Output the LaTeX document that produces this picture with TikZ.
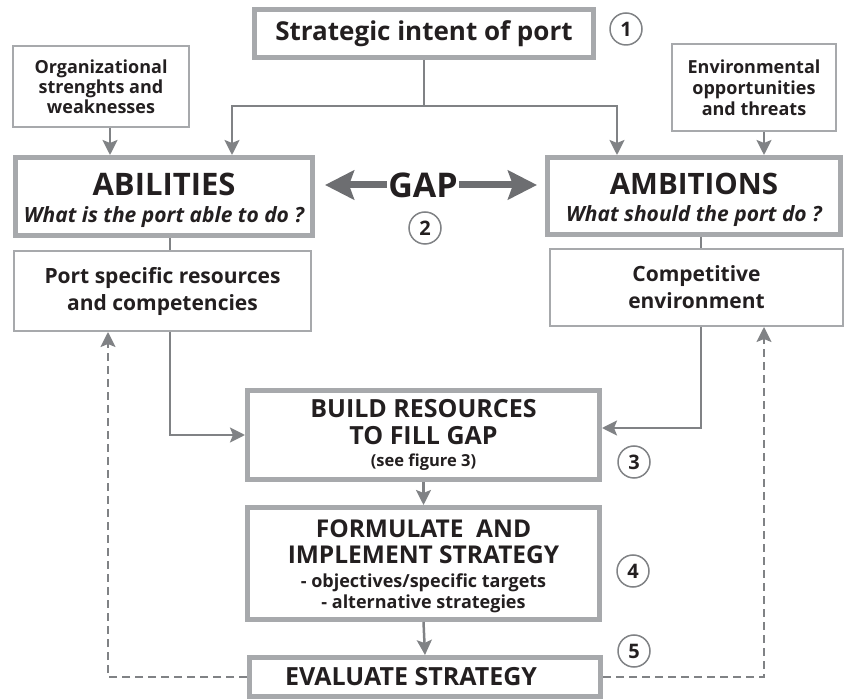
\documentclass[tikz,border=0pt]{standalone}
\usepackage{fontspec}
\setmainfont{Open Sans}
\usetikzlibrary{arrows.meta,calc}
\definecolor{boxgray}{HTML}{A7A9AC}
\definecolor{linegray}{HTML}{808285}
\definecolor{gapgray}{HTML}{6D6E71}
\definecolor{ink}{HTML}{231F20}
\newcommand\fsz[2]{\fontsize{#1pt}{#2pt}\selectfont}
\tikzset{
  thickbox/.style={draw=boxgray, line width=5pt, inner sep=0pt, align=center, text=ink},
  thinbox/.style={draw=boxgray, line width=2pt, inner sep=0pt, align=center, text=ink},
  conn/.style={draw=linegray, line width=2.5pt},
  arr/.style={conn, -{Stealth[length=15pt,width=15pt,inset=3pt]}},
  dasharr/.style={draw=linegray, line width=2pt, dash pattern=on 8pt off 5pt,
    -{Stealth[length=15pt,width=15pt,inset=3pt]}},
  gaparrow/.style={draw=gapgray, line width=7pt, -{Stealth[length=29pt,width=29pt,inset=5pt]}},
  num/.style={circle, draw=linegray, line width=1.5pt, minimum size=32pt, inner sep=0pt,
    text=ink, font=\bfseries\fsz{20}{20}},
}
\begin{document}
\begin{tikzpicture}[x=1pt,y=-1pt]
\useasboundingbox (0,0) rectangle (847,700);

% top row
\node[thickbox, minimum width=339pt, minimum height=48pt,
      font=\bfseries\fsz{26}{30}] (intent) at (424,33.5) {Strategic intent of port};
\node[num] (n1) at (626,29) {1};

\node[thinbox, minimum width=176pt, minimum height=81pt,
      font=\bfseries\fsz{18}{20}] (org) at (101,86.5)
      {Organizational\\strenghts and\\weaknesses};
\node[thinbox, minimum width=164pt, minimum height=87pt,
      font=\bfseries\fsz{18}{21}] (env) at (754,87.5)
      {Environmental\\opportunities\\and threats};

% abilities / ambitions
\node[thickbox, minimum width=297pt, minimum height=78pt,
      font=\bfseries\fsz{31}{27}] (abilities) at (164,196.5)
      {\rule{0pt}{30pt}ABILITIES\\{\itshape\fsz{21}{24}What is the port able to do ?}};
\node[thickbox, minimum width=293pt, minimum height=77pt,
      font=\bfseries\fsz{29.5}{27}] (ambitions) at (694,196)
      {\rule{0pt}{30pt}AMBITIONS\\{\itshape\fsz{21}{24}What should the port do ?}};

\node[inner sep=1.5pt, text=ink, font=\bfseries\fsz{34}{34}] (gap) at (423,185) {GAP};
\node[num] (n2) at (425,228) {2};

\node[thinbox, minimum width=297pt, minimum height=80pt,
      font=\bfseries\fsz{21}{27}] (port) at (162.5,291)
      {Port specific resources\\and competencies};
\node[thinbox, minimum width=293pt, minimum height=77pt,
      font=\bfseries\fsz{21}{27}] (comp) at (696.5,287.5)
      {Competitive\\environment};

% central column
\node[thickbox, minimum width=352pt, minimum height=89pt,
      font=\bfseries\fsz{25}{27}] (build) at (423.5,435)
      {BUILD RESOURCES\\TO FILL GAP\\[-5pt]{\fsz{16.5}{18}(see figure 3)}};
\node[num] (n3) at (634,462) {3};

\node[thickbox, minimum width=352pt, minimum height=112pt,
      font=\bfseries\fsz{24.5}{26}] (formulate) at (423.5,563.5)
      {\rule{0pt}{24pt}FORMULATE\ \ AND\\IMPLEMENT STRATEGY\\[-2pt]{\fsz{18}{20}- objectives/specific targets}\\[-5pt]
       {\fsz{18}{20}- alternative strategies}};
\node[num] (n4) at (633,571) {4};

\node[thickbox, minimum width=351pt, minimum height=39pt,
      font=\bfseries\fsz{25}{27}] (evaluate) at (425,677)
      {\hspace*{-28pt}EVALUATE STRATEGY};
\node[num] (n5) at (634,651) {5};

% connectors from the strategic intent
\coordinate (split) at (424,106);
\draw[conn] (intent.south) -- (split);
\draw[arr] (split) -| ([xshift=68pt]abilities.north);
\draw[arr] (split) -| ([xshift=-77pt]ambitions.north);
\draw[arr] ([xshift=9pt]org.south) -- ([xshift=9pt]org.south |- abilities.north);
\draw[arr] ([xshift=10pt]env.south) -- ([xshift=10pt]env.south |- ambitions.north);

% gap arrows
\draw[gaparrow, shorten >=10pt] (gap.west) -- (gap.west -| abilities.east);
\draw[gaparrow, shorten >=8pt] (gap.east) -- (gap.east -| ambitions.west);

% links to resource boxes
\draw[conn] ([xshift=6pt]abilities.south) -- ([xshift=6pt]abilities.south |- port.north);
\draw[conn] ([xshift=7pt]ambitions.south) -- ([xshift=7pt]ambitions.south |- comp.north);

% into the central column
\draw[arr] ([xshift=7.5pt]port.south) |- (build.west);
\draw[arr] ([xshift=4.5pt]comp.south) |- ([yshift=7pt]build.east);
\draw[arr] (build.south) -- (formulate.north);
\draw[arr] (formulate.south) -- (evaluate.north);

% feedback loops
\draw[dasharr] (evaluate.west) -| ([xshift=-54.5pt]port.south);
\draw[dasharr] (evaluate.east) -| ([xshift=67.5pt]comp.south);
\end{tikzpicture}
\end{document}
